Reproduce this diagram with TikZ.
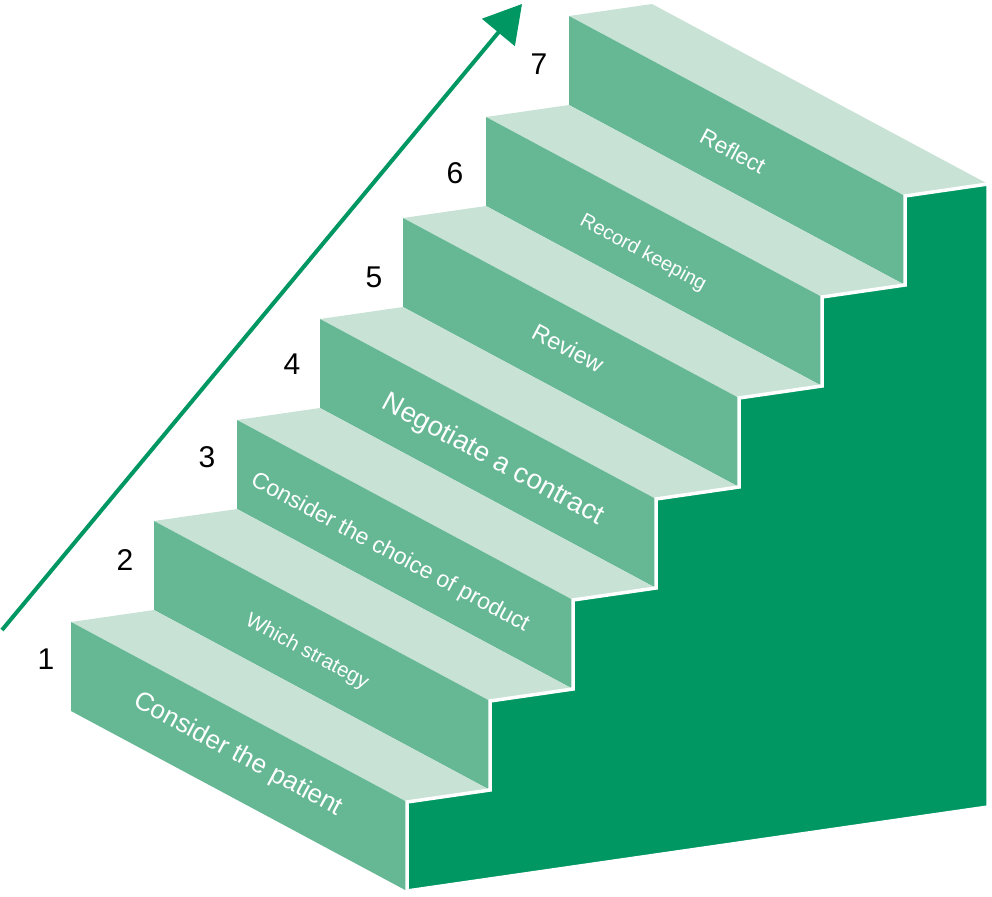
\documentclass[tikz,border=0pt]{standalone}
\usepackage{fontspec}
\setmainfont{Liberation Sans}
\usetikzlibrary{arrows.meta}
\definecolor{riser}{HTML}{66B895}
\definecolor{tread}{HTML}{C8E3D5}
\definecolor{side}{HTML}{009762}
\begin{document}
\begin{tikzpicture}[x=1pt,y=-1pt,
  riserface/.style={fill=riser},
  treadface/.style={fill=tread},
  sideface/.style={fill=side, draw=white, line width=3.5pt, line join=miter},
  steplabel/.style={text=white, rotate=-28.2, inner sep=0pt},
  stepnum/.style={text=black, inner sep=0pt, font=\fontsize{30}{30}\selectfont},
  ]
\useasboundingbox (0,0) rectangle (992,896);
% steps: treads and risers
\foreach \i in {7,6,...,1}{
  \pgfmathsetmacro\px{71+83*(\i-1)}
  \pgfmathsetmacro\py{622-101*(\i-1)}
  \fill[treadface] (\px,\py) -- ++(336,180) -- ++(83,-12) -- ++(-336,-180) -- cycle;
  \fill[riserface] (\px,\py) -- ++(336,180) -- ++(0,89) -- ++(-336,-180) -- cycle;
}
% dark side face
\filldraw[sideface] (407,891) -- (407,802) -- (490,790) -- (490,701) -- (573,689) -- (573,600)
  -- (656,588) -- (656,499) -- (739,487) -- (739,398) -- (822,386) -- (822,297)
  -- (905,285) -- (905,196) -- (988,184) -- (988,807) -- cycle;
% labels on risers
\node[steplabel, font=\fontsize{26}{26}\selectfont] (l1) at (238,755) {Consider the patient};
\node[steplabel, font=\fontsize{20.6}{20.6}\selectfont] (l2) at (307,652) {Which strategy};
\node[steplabel, font=\fontsize{23}{23}\selectfont] (l3) at (390,553) {Consider the choice of product};
\node[steplabel, font=\fontsize{27.6}{27.6}\selectfont] (l4) at (493,460) {Negotiate a contract};
\node[steplabel, font=\fontsize{23.5}{23.5}\selectfont] (l5) at (568,348) {Review};
\node[steplabel, font=\fontsize{20}{20}\selectfont] (l6) at (643,253) {Record keeping};
\node[steplabel, font=\fontsize{22.6}{22.6}\selectfont] (l7) at (733,151) {Reflect};
% step numbers
\node[stepnum] (n1) at (46,659) {1};
\node[stepnum] (n2) at (125,560) {2};
\node[stepnum] (n3) at (207,457) {3};
\node[stepnum] (n4) at (292,364) {4};
\node[stepnum] (n5) at (374,277) {5};
\node[stepnum] (n6) at (455,173) {6};
\node[stepnum] (n7) at (539,64) {7};
% arrow
\coordinate (as) at (2,630);
\coordinate (ae) at (522,4);
\draw[side, line width=4pt, -{Triangle[length=37pt,width=42pt]}] (as) -- (ae);
\end{tikzpicture}
\end{document}
